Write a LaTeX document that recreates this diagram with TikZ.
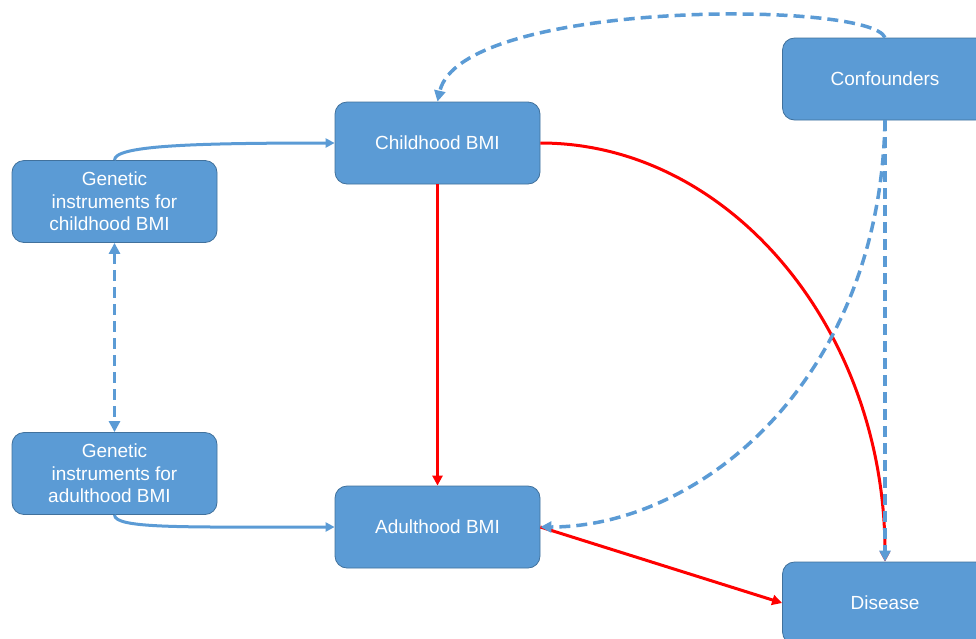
\documentclass[tikz,border=0pt]{standalone}
\usepackage{fontspec}
\setmainfont{Liberation Sans}
\usetikzlibrary{arrows.meta}
\definecolor{boxfill}{HTML}{5B9BD5}
\definecolor{boxline}{HTML}{41719C}
\definecolor{lblue}{HTML}{5B9BD5}
\definecolor{lred}{HTML}{FF0000}
\tikzset{
  box/.style={draw=boxline, line width=0.8pt, fill=boxfill, rounded corners=12pt,
    minimum width=205pt, minimum height=82pt, inner sep=0pt, text=white,
    align=center, font=\fontsize{19}{22.5}\selectfont},
  bluearr/.style={draw=lblue, line width=3pt, -{Triangle[length=9pt,width=9pt]}},
  bluedash/.style={draw=lblue, line width=3.5pt, dash pattern=on 11pt off 6pt,
    -{Triangle[length=11pt,width=11pt]}},
  redarr/.style={draw=lred, line width=3pt, -{Triangle[length=10pt,width=10pt]}},
}
\begin{document}
\begin{tikzpicture}[x=1pt,y=-1pt]
\useasboundingbox (0,0) rectangle (976,638);
\clip (0,0) rectangle (976,638);
\node[box] (conf) at (885,79) {Confounders};
\node[box] (cb) at (437.5,143) {Childhood BMI};
\node[box] (gc) at (114.5,201.5) {Genetic\\instruments for\\childhood BMI\hspace*{10pt}};
\node[box] (ga) at (114.5,473.5) {Genetic\\instruments for\\adulthood BMI\hspace*{10pt}};
\node[box] (ab) at (437.5,527) {Adulthood BMI};
\node[box] (dis) at (885,603) {Disease};

\draw[bluearr] (gc.north) .. controls +(0,-14) and +(-150,0) .. (cb.west);
\draw[bluearr] (ga.south) .. controls +(0,14) and +(-150,0) .. (ab.west);
\draw[bluedash, {Triangle[length=11pt,width=11pt]}-{Triangle[length=11pt,width=11pt]}] (gc.south) -- (ga.north);
\draw[redarr] (cb.south) -- (ab.north);
\draw[redarr] (cb.east) .. controls (730,143) and (885,330) .. (dis.north);
\draw[redarr] (ab.east) -- (dis.west);
\draw[bluedash] (conf.south) -- (dis.north);
\draw[bluedash] (conf.south) .. controls (880,380) and (700,527) .. (ab.east);
\draw[bluedash] (conf.north) .. controls (870,0) and (460,0) .. (cb.north);
\end{tikzpicture}
\end{document}
